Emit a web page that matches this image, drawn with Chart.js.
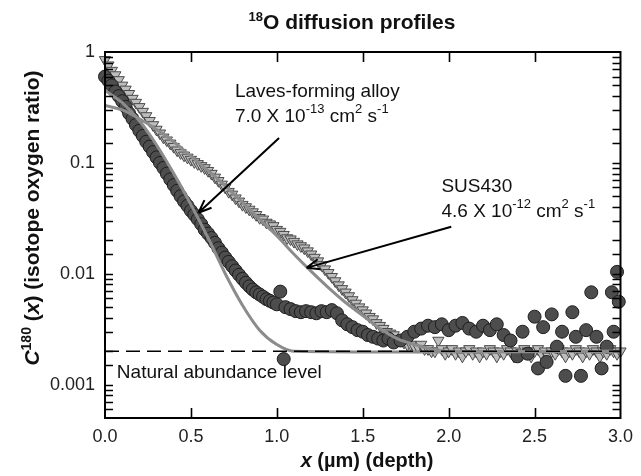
<!DOCTYPE html>
<html>
<head>
<meta charset="utf-8">
<title>18O diffusion profiles</title>
<style>
    body { margin: 0; background: #fff; }
    #wrap { width: 641px; height: 476px; }
</style>
</head>
<body>
<div id="wrap"><canvas id="myChart"></canvas></div>

<script src="https://cdn.jsdelivr.net/npm/chart.js@4/dist/chart.umd.min.js"></script>
<script>
// Laves-forming alloy (circles)
const circleX = [0.00, 0.02, 0.04, 0.06, 0.08, 0.10, 0.12, 0.14, 0.16, 0.18, 0.20, 0.22, 0.24, 0.26, 0.28,
    0.30, 0.32, 0.34, 0.36, 0.38, 0.40, 0.42, 0.44, 0.46, 0.48, 0.50, 0.52, 0.54, 0.56, 0.58,
    0.60, 0.62, 0.64, 0.66, 0.68, 0.70, 0.72, 0.74, 0.76, 0.78, 0.80, 0.82, 0.84, 0.86, 0.88,
    0.90, 0.92, 0.94, 0.96, 0.98, 1.00, 1.02, 1.04, 1.05, 1.08, 1.11, 1.14, 1.17, 1.20, 1.23,
    1.26, 1.29, 1.32, 1.35, 1.38, 1.41, 1.44, 1.47, 1.50, 1.53, 1.56, 1.59, 1.62, 1.65, 1.68,
    1.72, 1.76, 1.80, 1.84, 1.88, 1.92, 1.96, 2.00, 2.04, 2.08, 2.12, 2.16, 2.20, 2.24, 2.28,
    2.32, 2.36, 2.40, 2.43, 2.46, 2.50, 2.52, 2.55, 2.57, 2.60, 2.63, 2.66, 2.68, 2.72, 2.74,
    2.77, 2.80, 2.83, 2.86, 2.89, 2.92, 2.95, 2.96, 2.98, 2.99];
const circleY = [0.60, 0.55, 0.50, 0.44, 0.40, 0.36, 0.32, 0.28, 0.25, 0.22, 0.195, 0.175, 0.155, 0.14, 0.125,
    0.112, 0.10, 0.09, 0.08, 0.071, 0.063, 0.056, 0.050, 0.045, 0.041, 0.037, 0.034, 0.031, 0.028, 0.025,
    0.023, 0.021, 0.019, 0.017, 0.0155, 0.014, 0.0128, 0.0117, 0.0107, 0.0098, 0.0090, 0.0083, 0.0077, 0.0072, 0.0068,
    0.0065, 0.0062, 0.0059, 0.0057, 0.0055, 0.0053, 0.0069, 0.0017, 0.0050, 0.0048, 0.0046, 0.0045, 0.0046, 0.0045, 0.0044,
    0.0046, 0.0045, 0.0047, 0.0044, 0.0038, 0.0035, 0.0033, 0.0031, 0.0030, 0.0028, 0.0027, 0.0026, 0.0025, 0.0026, 0.0024,
    0.0025, 0.0027, 0.0030, 0.0032, 0.0034, 0.0033, 0.0035, 0.0031, 0.0034, 0.0036, 0.0032, 0.0030, 0.0034, 0.0031, 0.0035,
    0.0028, 0.0025, 0.0018, 0.0030, 0.0019, 0.0041, 0.0014, 0.0033, 0.0016, 0.0043, 0.0022, 0.0030, 0.0012, 0.0045, 0.0027,
    0.0012, 0.0031, 0.0068, 0.0027, 0.0014, 0.0022, 0.0068, 0.0030, 0.0104, 0.0056];

// SUS430 (triangles)
const triangleX = [0.00, 0.02, 0.04, 0.06, 0.08, 0.10, 0.12, 0.14, 0.16, 0.18, 0.20, 0.22, 0.24, 0.26, 0.28,
    0.30, 0.32, 0.34, 0.36, 0.38, 0.40, 0.42, 0.44, 0.46, 0.48, 0.50, 0.52, 0.54, 0.56, 0.58,
    0.60, 0.62, 0.64, 0.66, 0.68, 0.70, 0.72, 0.74, 0.76, 0.78, 0.80, 0.82, 0.84, 0.86, 0.88,
    0.90, 0.92, 0.94, 0.96, 0.98, 1.00, 1.02, 1.04, 1.06, 1.08, 1.10, 1.12, 1.14, 1.16, 1.18,
    1.20, 1.22, 1.24, 1.26, 1.28, 1.30, 1.32, 1.34, 1.36, 1.38, 1.40, 1.42, 1.44, 1.46, 1.48,
    1.50, 1.52, 1.54, 1.56, 1.58, 1.60, 1.62, 1.64, 1.66, 1.68, 1.70, 1.72, 1.74, 1.76, 1.78,
    1.80, 1.82, 1.84, 1.86, 1.88, 1.90, 1.92, 1.94, 1.96, 1.98, 2.00, 2.02, 2.04, 2.06, 2.08,
    2.10, 2.12, 2.14, 2.16, 2.18, 2.20, 2.22, 2.24, 2.26, 2.28, 2.30, 2.32, 2.34, 2.36, 2.38,
    2.40, 2.42, 2.44, 2.46, 2.48, 2.50, 2.52, 2.54, 2.56, 2.58, 2.60, 2.62, 2.64, 2.66, 2.68,
    2.70, 2.72, 2.74, 2.76, 2.78, 2.80, 2.82, 2.84, 2.86, 2.88, 2.90, 2.92, 2.94, 2.96, 2.98, 3.00];
const triangleY = [0.85, 0.76, 0.68, 0.62, 0.56, 0.50, 0.46, 0.42, 0.38, 0.35, 0.32, 0.29, 0.265, 0.24, 0.22,
    0.20, 0.185, 0.17, 0.16, 0.15, 0.14, 0.13, 0.123, 0.117, 0.112, 0.107, 0.102, 0.098, 0.094, 0.090,
    0.085, 0.080, 0.074, 0.069, 0.064, 0.060, 0.055, 0.052, 0.048, 0.045, 0.042, 0.040, 0.038, 0.036, 0.034,
    0.032, 0.031, 0.029, 0.028, 0.027, 0.025, 0.024, 0.0225, 0.021, 0.0205, 0.0195, 0.0185, 0.0178, 0.017, 0.016,
    0.015, 0.014, 0.013, 0.012, 0.011, 0.0102, 0.0094, 0.0086, 0.0079, 0.0073, 0.0068, 0.0063, 0.0058, 0.0054, 0.0050,
    0.0047, 0.0044, 0.0041, 0.0039, 0.0036, 0.0034, 0.0032, 0.0030, 0.0029, 0.0028, 0.0026, 0.0025, 0.0024, 0.0023, 0.0023,
    0.0022, 0.0022, 0.0023, 0.0021, 0.0021, 0.0020, 0.0020, 0.0025, 0.0021, 0.0019, 0.0020, 0.0021, 0.0019, 0.0020, 0.0018,
    0.0020, 0.0021, 0.0019, 0.0020, 0.0018, 0.0020, 0.0019, 0.0021, 0.0020, 0.0018, 0.0020, 0.0019, 0.0021, 0.0020, 0.0018,
    0.0020, 0.0019, 0.0021, 0.0020, 0.0018, 0.0020, 0.0021, 0.0019, 0.0020, 0.0018, 0.0020, 0.0019, 0.0021, 0.0020, 0.0018,
    0.0020, 0.0019, 0.0021, 0.0020, 0.0018, 0.0020, 0.0019, 0.0021, 0.0020, 0.0018, 0.0020, 0.0019, 0.0021, 0.0020, 0.0019, 0.0020];

// fitted profiles
const fitSusX = [0.00, 0.10, 0.20, 0.30, 0.40, 0.50, 0.60, 0.70, 0.80, 0.90, 1.00, 1.10, 1.20, 1.30, 1.40,
    1.50, 1.60, 1.70, 1.80, 1.90, 2.00, 3.00];
const fitSusY = [0.33, 0.30, 0.25, 0.20, 0.155, 0.115, 0.085, 0.062, 0.044, 0.031, 0.022, 0.015, 0.0105, 0.0075, 0.0055,
    0.0042, 0.0032, 0.0026, 0.0023, 0.0021, 0.0020, 0.0020];
const fitLavesX = [0.00, 0.10, 0.20, 0.30, 0.40, 0.50, 0.60, 0.70, 0.80, 0.90, 1.00, 1.10, 3.00];
const fitLavesY = [0.45, 0.35, 0.24, 0.145, 0.08, 0.042, 0.021, 0.010, 0.0052, 0.0031, 0.0023, 0.0020, 0.0020];

// natural abundance level
const naturalX = [0, 3];
const naturalY = [0.002, 0.002];

// annotation anchors, in data units
const notes = {
    laves: { x: 0.756, y1: 0.436, y2: 0.26, from: [1.013, 0.168], to: [0.544, 0.0355] },
    sus: { x: 1.958, y1: 0.0608, y2: 0.0362, from: [2.015, 0.0265], to: [1.173, 0.0113] },
    natural: { x: 0.069, y: 0.00128 }
};

const FONT = '"Liberation Sans", Arial, sans-serif';

function pts(xs, ys) {
    return xs.map((x, i) => ({ x: x, y: ys[i] }));
}

// draws a row of text pieces [text, font, dy]
function richText(ctx, parts, x, y, align) {
    let w = 0;
    parts.forEach(p => { ctx.font = p[1]; w += ctx.measureText(p[0]).width; });
    let cx = align === 'center' ? x - w / 2 : x;
    ctx.textAlign = 'left';
    parts.forEach(p => {
        ctx.font = p[1];
        ctx.fillText(p[0], cx, y + (p[2] || 0));
        cx += ctx.measureText(p[0]).width;
    });
}

function arrow(ctx, x1, y1, x2, y2) {
    ctx.beginPath();
    ctx.moveTo(x1, y1);
    ctx.lineTo(x2, y2);
    const ang = Math.atan2(y2 - y1, x2 - x1);
    const len = 14, spread = 0.38;
    ctx.moveTo(x2, y2);
    ctx.lineTo(x2 - len * Math.cos(ang - spread), y2 - len * Math.sin(ang - spread));
    ctx.moveTo(x2, y2);
    ctx.lineTo(x2 - len * Math.cos(ang + spread), y2 - len * Math.sin(ang + spread));
    ctx.stroke();
}

const decorations = {
    id: 'decorations',
    afterDraw(chart) {
        const ctx = chart.ctx, a = chart.chartArea;
        const xs = chart.scales.x, ys = chart.scales.y;
        ctx.save();
        ctx.strokeStyle = '#000';
        ctx.fillStyle = '#111';

        // frame and inward ticks
        ctx.lineWidth = 2;
        ctx.strokeRect(a.left, a.top, a.right - a.left, a.bottom - a.top);
        ctx.lineWidth = 1.6;
        ctx.beginPath();
        xs.ticks.forEach(t => {
            const px = Math.round(xs.getPixelForValue(t.value)) + 0.5;
            if (px <= a.left + 2 || px >= a.right - 2) return;
            ctx.moveTo(px, a.bottom); ctx.lineTo(px, a.bottom - 10);
            ctx.moveTo(px, a.top); ctx.lineTo(px, a.top + 10);
        });
        ys.ticks.forEach(t => {
            const py = Math.round(ys.getPixelForValue(t.value)) + 0.5;
            if (py <= a.top + 2 || py >= a.bottom - 2) return;
            ctx.moveTo(a.left, py); ctx.lineTo(a.left + 8, py);
            ctx.moveTo(a.right, py); ctx.lineTo(a.right - 8, py);
        });
        ctx.stroke();

        // titles
        ctx.textBaseline = 'alphabetic';
        richText(ctx, [['18', 'bold 13px ' + FONT, -8], ['O diffusion profiles', 'bold 21px ' + FONT]], 352, 29, 'center');
        ctx.textBaseline = 'middle';
        richText(ctx, [['x', 'italic bold 20px ' + FONT], [' (\u00b5m) (depth)', 'bold 20px ' + FONT]], 367, 461, 'center');
        ctx.save();
        ctx.translate(33, 218);
        ctx.rotate(-Math.PI / 2);
        richText(ctx, [
            ['C', 'italic bold 21px ' + FONT],
            ['180', 'bold 14px ' + FONT, -6],
            [' (', 'bold 21px ' + FONT],
            ['x', 'italic bold 21px ' + FONT],
            [') (isotope oxygen ratio)', 'bold 21px ' + FONT]
        ], 0, 0, 'center');
        ctx.restore();

        // annotations
        const big = '19px ' + FONT, sup = '13px ' + FONT;
        ctx.fillStyle = '#111';
        const lx = xs.getPixelForValue(notes.laves.x);
        richText(ctx, [['Laves-forming alloy', big]], lx, ys.getPixelForValue(notes.laves.y1), 'left');
        richText(ctx, [['7.0 X 10', big], ['-13', sup, -7], [' cm', big], ['2', sup, -7], [' s', big], ['-1', sup, -7]],
            lx, ys.getPixelForValue(notes.laves.y2), 'left');
        const sx = xs.getPixelForValue(notes.sus.x);
        richText(ctx, [['SUS430', big]], sx, ys.getPixelForValue(notes.sus.y1), 'left');
        richText(ctx, [['4.6 X 10', big], ['-12', sup, -7], [' cm', big], ['2', sup, -7], [' s', big], ['-1', sup, -7]],
            sx, ys.getPixelForValue(notes.sus.y2), 'left');
        richText(ctx, [['Natural abundance level', big]], xs.getPixelForValue(notes.natural.x),
            ys.getPixelForValue(notes.natural.y), 'left');

        ctx.lineWidth = 2;
        [notes.laves, notes.sus].forEach(n => {
            arrow(ctx, xs.getPixelForValue(n.from[0]), ys.getPixelForValue(n.from[1]),
                xs.getPixelForValue(n.to[0]), ys.getPixelForValue(n.to[1]));
        });
        ctx.restore();
    }
};

const ctx = document.getElementById('myChart').getContext('2d');
const chart = new Chart(ctx, {
    type: 'scatter',
    data: {
        datasets: [{
            label: 'Natural abundance level',
            type: 'line',
            data: pts(naturalX, naturalY),
            borderColor: '#000',
            borderWidth: 1.6,
            borderDash: [14, 7],
            pointRadius: 0,
            showLine: true,
            order: 0
        }, {
            label: 'SUS430 fit',
            type: 'line',
            data: pts(fitSusX, fitSusY),
            borderColor: '#8c8c8c',
            borderWidth: 3,
            pointRadius: 0,
            tension: 0.3,
            showLine: true,
            order: 1
        }, {
            label: 'Laves fit',
            type: 'line',
            data: pts(fitLavesX, fitLavesY),
            borderColor: '#8c8c8c',
            borderWidth: 3,
            pointRadius: 0,
            tension: 0.3,
            showLine: true,
            order: 1
        }, {
            label: 'Laves-forming alloy',
            data: pts(circleX, circleY),
            pointStyle: 'circle',
            pointRadius: 6.5,
            backgroundColor: '#4d4d4d',
            borderColor: '#1e1e1e',
            borderWidth: 1,
            clip: false,
            order: 2
        }, {
            label: 'SUS430',
            data: pts(triangleX, triangleY),
            pointStyle: 'triangle',
            rotation: 180,
            pointRadius: 6.5,
            backgroundColor: '#bdbdbd',
            borderColor: '#4a4a4a',
            borderWidth: 1,
            clip: false,
            order: 3
        }]
    },
    options: {
        responsive: true,
        maintainAspectRatio: false,
        animation: false,
        layout: { padding: { top: 52, right: 12, left: 0, bottom: 0 } },
        plugins: { legend: { display: false }, tooltip: { enabled: false } },
        scales: {
            x: {
                type: 'linear',
                min: 0,
                max: 3,
                grid: { display: false, drawTicks: false },
                border: { display: false },
                ticks: {
                    stepSize: 0.5,
                    padding: 8,
                    color: '#222',
                    font: { family: FONT, size: 18 },
                    callback: v => v.toFixed(1)
                },
                afterFit: s => { s.height = 58; }
            },
            y: {
                type: 'logarithmic',
                min: 0.0005,
                max: 1,
                grid: { display: false, drawTicks: false },
                border: { display: false },
                ticks: {
                    autoSkip: false,
                    padding: 10,
                    color: '#222',
                    font: { family: FONT, size: 18 },
                    callback: v => {
                        const l = Math.log10(v);
                        return Math.abs(l - Math.round(l)) < 1e-9 ? String(v) : '';
                    }
                },
                afterFit: s => { s.width = 105; }
            }
        }
    },
    plugins: [decorations]
});
</script>
</body>
</html>
